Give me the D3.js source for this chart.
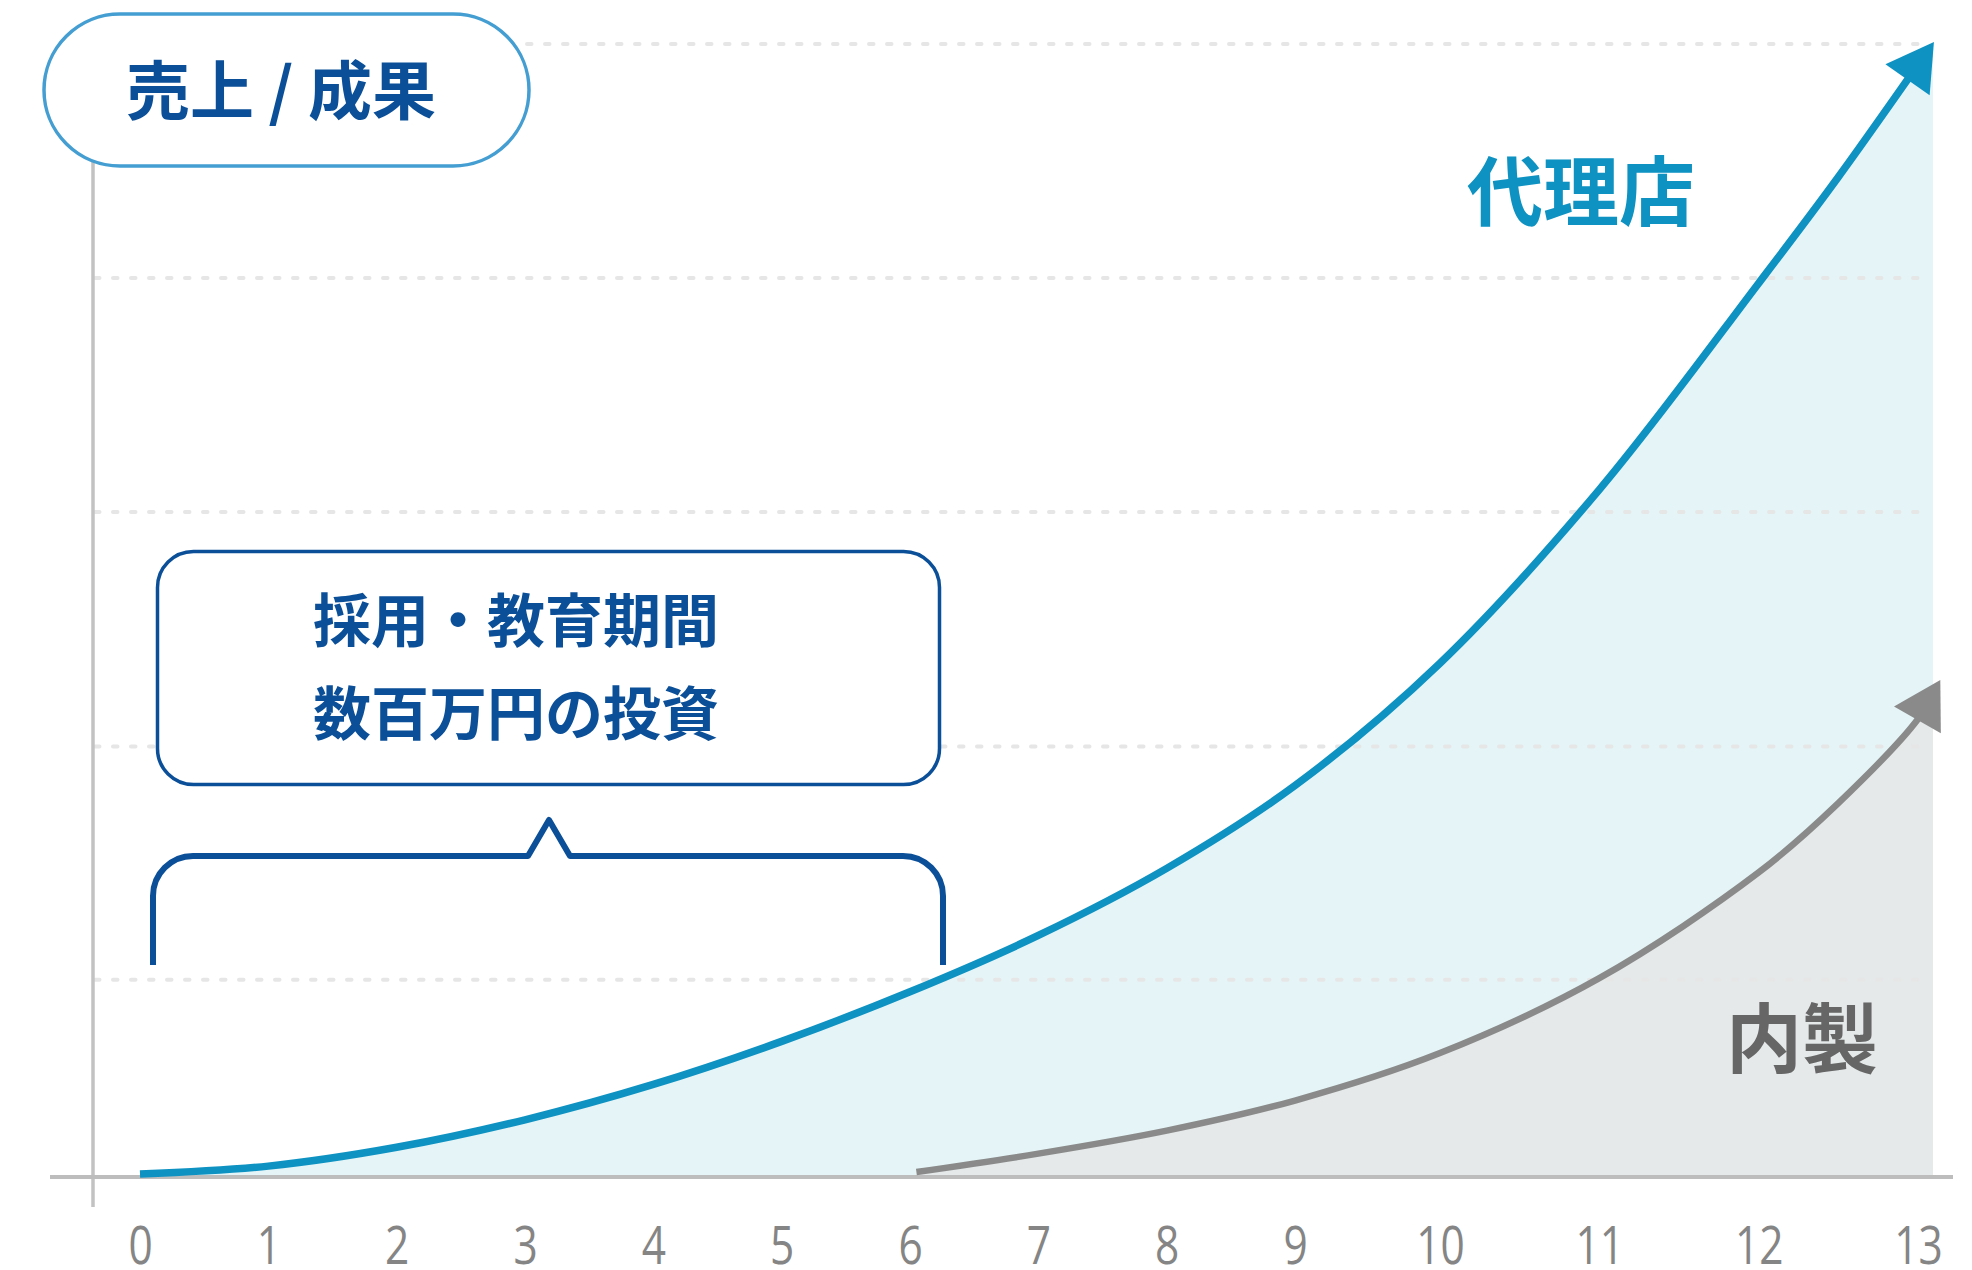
<!DOCTYPE html>
<html lang="ja">
<head>
<meta charset="utf-8">
<script src="https://cdn.jsdelivr.net/npm/d3@7"></script>
<style>
  html, body { margin: 0; padding: 0; background: #ffffff; }
  svg { display: block; }
</style>
</head>
<body>
<svg id="chart" width="1972" height="1270"></svg>
<script>
// ---------- data ----------
const xTicks = [0, 1, 2, 3, 4, 5, 6, 7, 8, 9, 10, 11, 12, 13];
const gridValues = [17.4, 38.0, 58.7, 79.35, 100];

// 代理店 (agency) curve
const agencyX = [0, 1, 2, 3, 4, 5, 6, 7, 8, 9, 10, 11, 12, 12.5, 13.1];
const agencyY = [0.26, 0.96, 2.62, 5.05, 8.17, 11.97, 16.35, 21.32, 27.24, 34.55, 45.35, 60.67, 78.89, 88.26, 100.18];

// 内製 (in-house) curve
const inhouseX = [6.05, 7, 8, 9, 10, 11, 12, 12.5, 13, 13.14];
const inhouseY = [0.44, 2.06, 4.09, 6.75, 10.94, 17.55, 26.88, 33.0, 40.42, 43.87];

const labels = {
  yAxis: "売上 / 成果",
  agency: "代理店",
  inhouse: "内製",
  note1: "採用・教育期間",
  note2: "数百万円の投資"
};

// ---------- setup ----------
const svg = d3.select("#chart");
const cjk = "'Noto Sans CJK JP', 'Noto Sans', sans-serif";
const baseY = 1177;

const x = d3.scaleLinear().domain([0, 9, 10, 13]).range([140, 1295, 1440, 1918]);
const y = d3.scaleLinear().domain([0, 100]).range([baseY, 44]);

const agency = agencyX.map((v, i) => ({ x: v, y: agencyY[i] }));
const inhouse = inhouseX.map((v, i) => ({ x: v, y: inhouseY[i] }));

const curve = d3.curveCatmullRom.alpha(0.5);
const line = d3.line().x(d => x(d.x)).y(d => y(d.y)).curve(curve);
const area = d3.area().x(d => x(d.x)).y0(baseY).y1(d => y(d.y)).curve(curve);

const defs = svg.append("defs");
defs.append("clipPath").attr("id", "plotClip")
  .append("rect").attr("x", 0).attr("y", 0).attr("width", 1933).attr("height", baseY);

// ---------- fills ----------
svg.append("path").datum(agency)
  .attr("d", area).attr("fill", "#e5f5f7").attr("clip-path", "url(#plotClip)");
svg.append("path").datum(inhouse)
  .attr("d", area).attr("fill", "#e5e9ea").attr("clip-path", "url(#plotClip)");

// ---------- grid ----------
svg.append("g").selectAll("line").data(gridValues).join("line")
  .attr("x1", 95).attr("x2", 1920)
  .attr("y1", d => y(d)).attr("y2", d => y(d))
  .attr("stroke", "#e6e6e6").attr("stroke-width", 4)
  .attr("stroke-linecap", "round").attr("stroke-dasharray", "4.5 13.5");

// ---------- axes ----------
svg.append("line").attr("x1", 93).attr("x2", 93).attr("y1", 120).attr("y2", 1207)
  .attr("stroke", "#c2c2c2").attr("stroke-width", 3.5);
svg.append("line").attr("x1", 50).attr("x2", 1953).attr("y1", baseY).attr("y2", baseY)
  .attr("stroke", "#bdbdbd").attr("stroke-width", 4);

const xAxis = d3.axisBottom(x).tickValues(xTicks).tickSize(0).tickFormat(d => String(d));
const gx = svg.append("g").attr("transform", `translate(0,${baseY})`).call(xAxis);
gx.select(".domain").remove();
gx.selectAll("text")
  .attr("y", 87).attr("dy", 0)
  .attr("transform", "scale(0.8,1)")
  .attr("fill", "#858585")
  .attr("font-family", "'Open Sans', 'Noto Sans', sans-serif")
  .attr("font-size", 53)
  .attr("font-weight", 400);

// ---------- curves with arrowheads ----------
function arrowCurve(data, color, width) {
  const p = svg.append("path").datum(data)
    .attr("d", line).attr("fill", "none")
    .attr("stroke", color).attr("stroke-width", width);
  const node = p.node();
  const L = node.getTotalLength();
  const headLen = 46, headHalf = 27;
  p.attr("stroke-dasharray", `${L - headLen + 6} ${L}`);
  const tip = node.getPointAtLength(L);
  const base = node.getPointAtLength(L - headLen);
  const dx = tip.x - base.x, dy = tip.y - base.y;
  const len = Math.hypot(dx, dy);
  const ux = dx / len, uy = dy / len;
  const bx = tip.x - ux * headLen, by = tip.y - uy * headLen;
  const nx = -uy, ny = ux;
  const pts = [[tip.x, tip.y], [bx + nx * headHalf, by + ny * headHalf], [bx - nx * headHalf, by - ny * headHalf]];
  svg.append("polygon").attr("points", pts.map(q => q.join(",")).join(" ")).attr("fill", color);
}
arrowCurve(inhouse, "#8a8a8a", 6.5);
arrowCurve(agency, "#0e92c2", 7.5);

// ---------- series labels ----------
svg.append("text").text(labels.agency)
  .attr("x", 1581).attr("y", 187)
  .attr("text-anchor", "middle").attr("dominant-baseline", "central")
  .attr("font-family", cjk).attr("font-weight", 700).attr("font-size", 76)
  .attr("fill", "#0e92c2");
svg.append("text").text(labels.inhouse)
  .attr("x", 1802).attr("y", 1034)
  .attr("text-anchor", "middle").attr("dominant-baseline", "central")
  .attr("font-family", cjk).attr("font-weight", 700).attr("font-size", 76)
  .attr("fill", "#666666");

// ---------- y-axis title pill ----------
svg.append("rect").attr("x", 44).attr("y", 14).attr("width", 485).attr("height", 152)
  .attr("rx", 76).attr("ry", 76)
  .attr("fill", "#ffffff").attr("stroke", "#449ed2").attr("stroke-width", 3.5);
svg.append("text").text(labels.yAxis)
  .attr("x", 281).attr("y", 86)
  .attr("text-anchor", "middle").attr("dominant-baseline", "central")
  .attr("font-family", cjk).attr("font-weight", 700).attr("font-size", 64)
  .attr("fill", "#0a4f98");

// ---------- callout ----------
svg.append("rect").attr("x", 157.5).attr("y", 551.5).attr("width", 782).attr("height", 233)
  .attr("rx", 36).attr("ry", 36)
  .attr("fill", "#ffffff").attr("stroke", "#0a4f98").attr("stroke-width", 3.5);
svg.append("text").text(labels.note1)
  .attr("x", 313).attr("y", 617)
  .attr("dominant-baseline", "central")
  .attr("font-family", cjk).attr("font-weight", 700).attr("font-size", 58)
  .attr("fill", "#0a4f98");
svg.append("text").text(labels.note2)
  .attr("x", 313).attr("y", 710)
  .attr("dominant-baseline", "central")
  .attr("font-family", cjk).attr("font-weight", 700).attr("font-size", 58)
  .attr("fill", "#0a4f98");

// bracket spanning years 0–6
const bx0 = 153, bx1 = 943, bTop = 856, bBot = 965, r = 40, peakX = 549;
const bracket = d3.path();
bracket.moveTo(bx0, bBot);
bracket.lineTo(bx0, bTop + r);
bracket.arcTo(bx0, bTop, bx0 + r, bTop, r);
bracket.lineTo(peakX - 21, bTop);
bracket.lineTo(peakX, bTop - 36);
bracket.lineTo(peakX + 21, bTop);
bracket.lineTo(bx1 - r, bTop);
bracket.arcTo(bx1, bTop, bx1, bTop + r, r);
bracket.lineTo(bx1, bBot);
svg.append("path").attr("d", bracket.toString())
  .attr("fill", "none").attr("stroke", "#0a4f98").attr("stroke-width", 6)
  .attr("stroke-linejoin", "round");
</script>
</body>
</html>
